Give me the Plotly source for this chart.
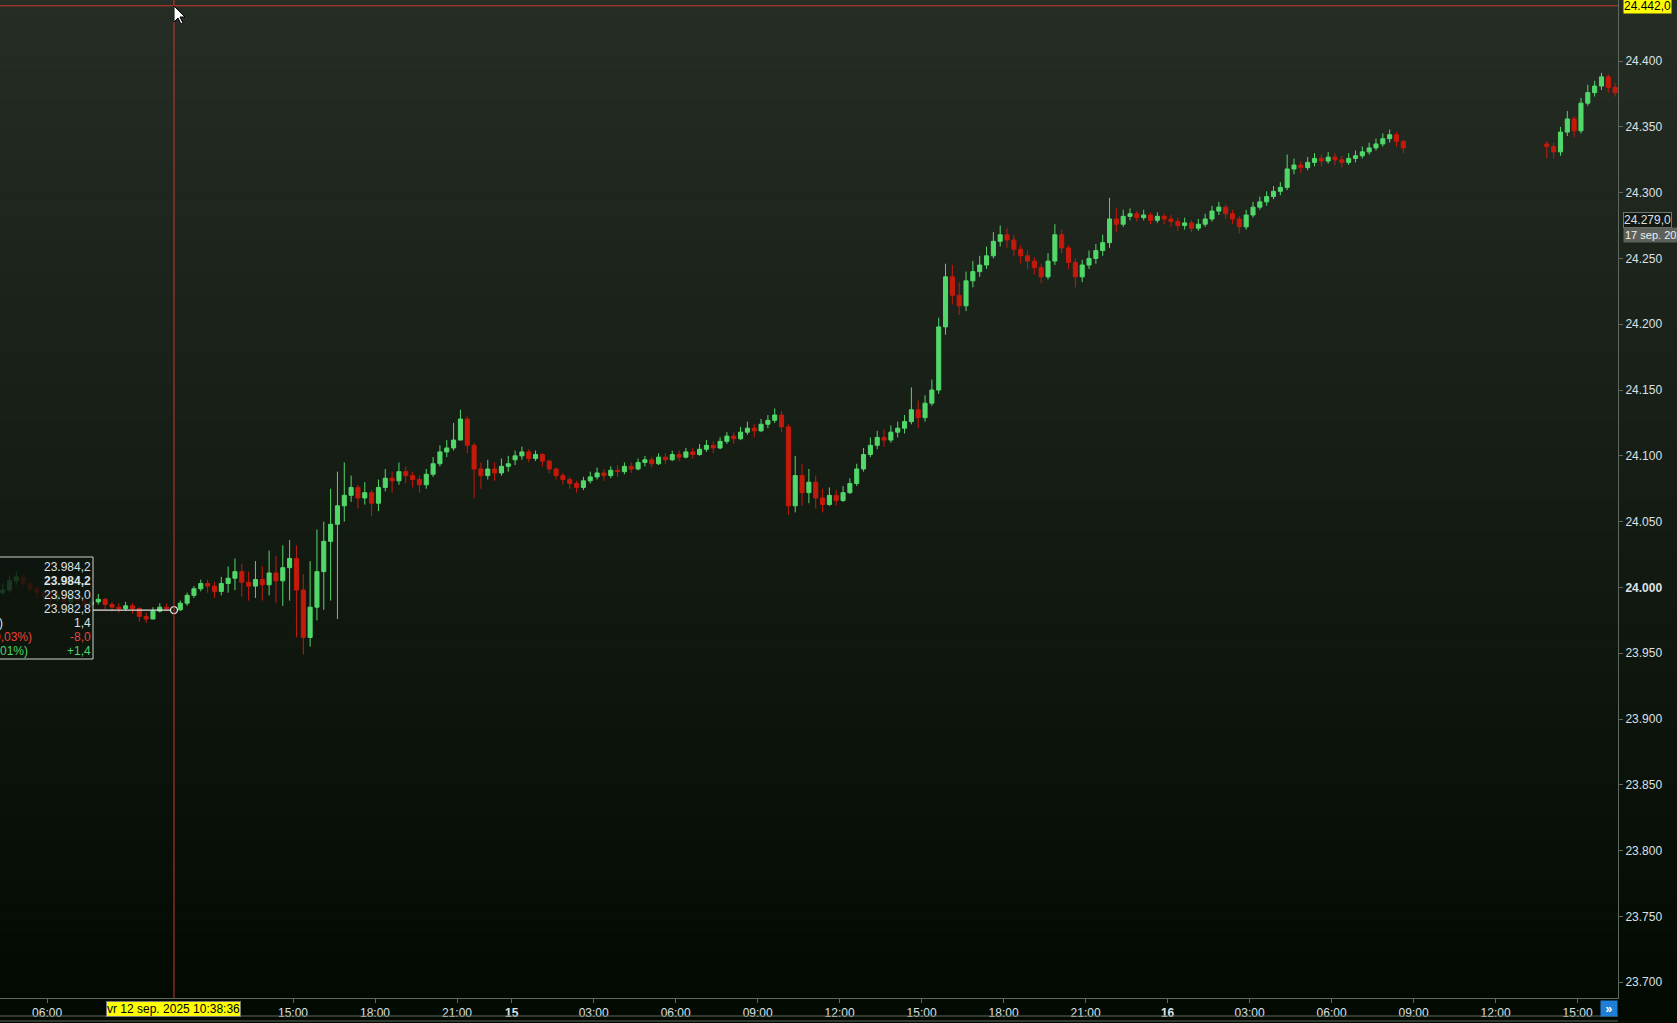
import pandas as pd
import plotly.graph_objects as go

# ---------------- DATA (15-minute bars, NQ future) ----------------
fri_start = "2025-09-12 04:15"
fri_open0 = 23996
fri_close = [23998, 24005, 24008,
             24003, 23999, 23996, 23993,
             23991, 23994, 23989, 23992,
             23990, 23987, 23989, 23991,
             23987, 23985, 23984, 23986,
             23984, 23978, 23976, 23982,
             23985, 23984, 23983, 23988,
             23994, 23999, 24003, 24001,
             23997, 24003, 24007, 24012,
             24004, 24001, 24006, 24002,
             24011, 24005, 24015, 24022,
             23998, 23962, 23985, 24012,
             24035, 24048, 24062, 24070,
             24076, 24068, 24072, 24064,
             24076, 24083, 24081, 24088,
             24085, 24082, 24078, 24086,
             24094, 24103, 24106, 24112,
             24128, 24108, 24090, 24085,
             24090, 24087, 24092, 24094]
fri_high = [24003, 24009, 24012,
            24010, 24005, 24001, 23998,
            23996, 23998, 23995, 23996,
            23994, 23992, 23993, 23995,
            23992, 23989, 23988, 23989,
            23988, 23985, 23981, 23985,
            23988, 23988, 23986, 23990,
            23996, 24001, 24006, 24006,
            24004, 24008, 24016, 24022,
            24018, 24012, 24020, 24016,
            24028, 24024, 24032, 24036,
            24032, 24010, 24020, 24044,
            24050, 24075, 24088, 24095,
            24085, 24078, 24080, 24074,
            24082, 24090, 24088, 24095,
            24092, 24088, 24085, 24090,
            24099, 24108, 24112, 24125,
            24135, 24130, 24110, 24095,
            24097, 24095, 24098, 24100]
fri_low = [23994, 23996, 24002,
           24000, 23995, 23992, 23989,
           23987, 23989, 23986, 23988,
           23986, 23984, 23985, 23987,
           23983, 23982, 23981, 23982,
           23980, 23974, 23973, 23977,
           23981, 23982, 23981, 23982,
           23986, 23992, 23997, 23996,
           23992, 23994, 23996, 23998,
           23993, 23990, 23992, 23990,
           23994, 23988, 23986, 23990,
           23962, 23949, 23955, 23975,
           23983, 23990, 23976, 24050,
           24065, 24060, 24063, 24054,
           24058, 24073, 24072, 24078,
           24079, 24076, 24072, 24075,
           24084, 24092, 24099, 24104,
           24112, 24102, 24068, 24075,
           24082, 24081, 24085, 24088]

mon_start = "2025-09-15 00:00"
mon_open0 = 24097
mon_close = [24100, 24103, 24098, 24101,
             24096, 24090, 24085, 24082,
             24079, 24076, 24081, 24084,
             24087, 24085, 24089, 24088,
             24092, 24090, 24095, 24097,
             24094, 24099, 24097, 24101,
             24099, 24103, 24101, 24105,
             24108, 24106, 24111, 24115,
             24113, 24118, 24121, 24119,
             24124, 24127, 24131, 24122,
             24062, 24085, 24072, 24080,
             24068, 24063, 24070, 24066,
             24072, 24079, 24090, 24101,
             24108, 24114, 24112, 24118,
             24121, 24126, 24135, 24129,
             24140, 24150, 24198, 24236,
             24222, 24214, 24233, 24240,
             24245, 24252, 24263, 24268,
             24264, 24257, 24252, 24248,
             24243, 24236, 24248, 24268,
             24258, 24247, 24236, 24245,
             24250, 24256, 24262, 24280,
             24276, 24282, 24284, 24281,
             24283, 24279, 24282, 24280]
mon_high = [24104, 24107, 24105, 24104,
            24102, 24097, 24091, 24087,
            24084, 24081, 24084, 24088,
            24091, 24090, 24092, 24093,
            24095, 24095, 24098, 24100,
            24099, 24102, 24102, 24104,
            24104, 24106, 24106, 24109,
            24112, 24111, 24114, 24118,
            24118, 24122, 24126, 24124,
            24128, 24131, 24136, 24134,
            24124, 24100, 24094, 24090,
            24085, 24075, 24076, 24074,
            24077, 24083, 24094, 24106,
            24114, 24119, 24120, 24123,
            24126, 24131, 24152, 24142,
            24146, 24158, 24205, 24246,
            24245, 24232, 24240, 24248,
            24252, 24259, 24270, 24275,
            24273, 24268, 24260, 24256,
            24251, 24246, 24254, 24276,
            24272, 24260, 24250, 24249,
            24256, 24261, 24268, 24296,
            24288, 24287, 24288, 24286,
            24287, 24285, 24285, 24284]
mon_low = [24093, 24097, 24095, 24096,
           24092, 24087, 24082, 24078,
           24075, 24072, 24074, 24079,
           24082, 24081, 24083, 24084,
           24086, 24087, 24089, 24092,
           24091, 24093, 24094, 24096,
           24096, 24098, 24098, 24100,
           24103, 24102, 24105, 24109,
           24109, 24112, 24116, 24114,
           24118, 24121, 24125, 24118,
           24055, 24057, 24062, 24064,
           24060, 24057, 24062, 24062,
           24065, 24071, 24077, 24088,
           24099, 24105, 24107, 24110,
           24114, 24117, 24124, 24121,
           24126, 24138, 24147, 24192,
           24215, 24207, 24210, 24228,
           24236, 24242, 24250, 24259,
           24258, 24252, 24246, 24242,
           24238, 24231, 24234, 24245,
           24254, 24242, 24228, 24232,
           24242, 24246, 24252, 24258,
           24270, 24274, 24279, 24278,
           24279, 24276, 24277, 24276]

tue_start = "2025-09-16 00:00"
tue_open0 = 24280
tue_close = [24278, 24275, 24277, 24273,
             24276, 24280, 24286, 24289,
             24284, 24280, 24274, 24283,
             24289, 24293, 24297, 24301,
             24304, 24318, 24321, 24319,
             24323, 24326, 24324, 24327,
             24325, 24323, 24326, 24328,
             24331, 24334, 24337, 24341,
             24344, 24339, 24334]
tue_high = [24283, 24281, 24281, 24279,
            24280, 24284, 24290, 24293,
            24291, 24287, 24282, 24287,
            24293, 24297, 24301, 24305,
            24308, 24329, 24326, 24324,
            24327, 24330, 24329, 24331,
            24330, 24328, 24330, 24332,
            24335, 24338, 24341, 24345,
            24348, 24346, 24340]
tue_low = [24274, 24271, 24272, 24270,
           24271, 24274, 24278, 24283,
           24280, 24276, 24269, 24272,
           24281, 24287, 24290, 24295,
           24298, 24302, 24314, 24315,
           24317, 24320, 24320, 24322,
           24321, 24319, 24321, 24323,
           24326, 24329, 24332, 24335,
           24338, 24335, 24330]

tue2_start = "2025-09-16 13:45"
tue2_open0 = 24337
tue2_close = [24335, 24331, 24346, 24356, 24347, 24368,
              24376, 24381, 24388, 24380, 24376]
tue2_high = [24339, 24338, 24350, 24362, 24358, 24372,
             24382, 24385, 24391, 24390, 24383]
tue2_low = [24326, 24326, 24328, 24343, 24342, 24345,
            24366, 24373, 24378, 24376, 24373]

# crosshair / info box values
cross_time = "2025-09-12 10:38:36"
cross_price = 24442.0
info_open, info_high, info_low, info_close = 23984.2, 23984.2, 23983.0, 23982.8
marker_price = 24279.0

x_tick_times = ["2025-09-12 06:00", "2025-09-12 15:00",
                "2025-09-12 18:00", "2025-09-12 21:00", "2025-09-15 00:00", "2025-09-15 03:00",
                "2025-09-15 06:00", "2025-09-15 09:00", "2025-09-15 12:00", "2025-09-15 15:00",
                "2025-09-15 18:00", "2025-09-15 21:00", "2025-09-16 00:00", "2025-09-16 03:00",
                "2025-09-16 06:00", "2025-09-16 09:00", "2025-09-16 12:00", "2025-09-16 15:00"]
x_tick_text = ["06:00", "15:00", "18:00", "21:00", "<b>15</b>", "03:00",
               "06:00", "09:00", "12:00", "15:00", "18:00", "21:00", "<b>16</b>", "03:00",
               "06:00", "09:00", "12:00", "15:00"]
y_tick_vals = [23700, 23750, 23800, 23850, 23900, 23950, 24000, 24050,
               24100, 24150, 24200, 24250, 24300, 24350, 24400]
y_tick_text = ["23.700", "23.750", "23.800", "23.850", "23.900", "23.950", "<b>24.000</b>", "24.050",
               "24.100", "24.150", "24.200", "24.250", "24.300", "24.350", "24.400"]

# ---------------- time axis (weekend removed) ----------------
BASE = pd.Timestamp("2025-09-12 00:00")
WKND_START = pd.Timestamp("2025-09-12 23:00")
WKND_END = pd.Timestamp("2025-09-15 00:00")
GAP_H = (WKND_END - WKND_START) / pd.Timedelta(hours=1)
BAR = pd.Timedelta(minutes=15)


def to_h(ts):
    ts = pd.Timestamp(ts)
    h = (ts - BASE) / pd.Timedelta(hours=1)
    if ts >= WKND_END:
        h -= GAP_H
    return h


sessions = [(fri_start, fri_open0, fri_close, fri_high, fri_low),
            (mon_start, mon_open0, mon_close, mon_high, mon_low),
            (tue_start, tue_open0, tue_close, tue_high, tue_low),
            (tue2_start, tue2_open0, tue2_close, tue2_high, tue2_low)]
X, O, H, L, C = [], [], [], [], []
for start, o0, cl, hi, lo in sessions:
    t0 = pd.Timestamp(start)
    for i in range(len(cl)):
        X.append(to_h(t0 + i * BAR + BAR / 2))
        O.append(o0 if i == 0 else cl[i - 1])
        C.append(cl[i])
        H.append(hi[i])
        L.append(lo[i])

# ---------------- geometry ----------------
W, HGT = 1677, 1023
PL, PR, PT, PB = 0, 59, 0, 25
plot_w = W - PL - PR
plot_h = HGT - PT - PB
X_RANGE = [4.278, 63.48]
Y_RANGE = [23688, 24446.4]

GREEN = "#52d86a"
RED = "#c41a0c"
CROSS = "#c9392e"
AXIS = "#5f685e"
TXT = "#dce1e6"
FONT = "Liberation Sans, Arial, sans-serif"


def px2x(px):
    return px / plot_w


def px2y(py):
    return 1 - py / plot_h


fig = go.Figure()
fig.add_trace(go.Candlestick(
    x=X, open=O, high=H, low=L, close=C,
    increasing=dict(line=dict(color=GREEN, width=1), fillcolor=GREEN),
    decreasing=dict(line=dict(color=RED, width=1), fillcolor=RED),
    whiskerwidth=0, hoverinfo="skip", showlegend=False))

cx = to_h(cross_time)
fig.add_trace(go.Scatter(
    x=[cx], y=[info_close], mode="markers",
    marker=dict(size=7, color="#141a14", line=dict(color="#e8e8e8", width=1.3)),
    hoverinfo="skip", showlegend=False))

shapes = []
# background gradient
top_c = (38, 45, 37)
bot_c = (2, 10, 2)
N = 90
ytop, ybot = 1.0, -PB / plot_h
for i in range(N):
    t = (i + 0.5) / N
    col = tuple(round(top_c[k] + (bot_c[k] - top_c[k]) * min(1.0, t * 1.02)) for k in range(3))
    y1 = ytop - (ytop - ybot) * i / N
    y0 = ytop - (ytop - ybot) * (i + 1) / N - 0.002
    shapes.append(dict(type="rect", xref="paper", yref="paper", x0=0, x1=W / plot_w + 0.01,
                       y0=y0, y1=y1, fillcolor="rgb(%d,%d,%d)" % col, line_width=0, layer="below"))

# lower frame lines of the time-axis panel
for py in (1016, 1021):
    shapes.append(dict(type="line", xref="paper", yref="paper", x0=0, x1=1, y0=px2y(py), y1=px2y(py),
                       line=dict(color=AXIS, width=1)))

# crosshair
shapes.append(dict(type="line", xref="x", yref="paper", x0=cx, x1=cx, y0=0, y1=1,
                   line=dict(color=CROSS, width=1)))
shapes.append(dict(type="line", xref="paper", yref="y", x0=0, x1=1, y0=cross_price, y1=cross_price,
                   line=dict(color=CROSS, width=1)))

# info box
bx1 = 93
shapes.append(dict(type="rect", xref="paper", yref="paper", x0=-0.01, x1=px2x(bx1),
                   y0=px2y(659), y1=px2y(557), fillcolor="rgba(14,21,14,0.82)",
                   line=dict(color="#cfd2cf", width=1), layer="above"))
cx_paper = (cx - X_RANGE[0]) / (X_RANGE[1] - X_RANGE[0])
shapes.append(dict(type="line", xref="paper", yref="y", x0=px2x(bx1), x1=cx_paper - 0.0022,
                   y0=info_close, y1=info_close, line=dict(color="#e0e0e0", width=1.3)))

# mouse cursor
cur = [(0, 0), (0, 16), (4, 12), (7, 18), (9, 17), (6, 11), (11, 11)]
ox, oy = 174, 6
path = "M " + " L ".join("%f,%f" % (px2x(ox + dx), px2y(oy + dy)) for dx, dy in cur) + " Z"
shapes.append(dict(type="path", xref="paper", yref="paper", path=path, fillcolor="white",
                   line=dict(color="black", width=1), layer="above"))

ann = []
# y-axis crosshair price label
ann.append(dict(xref="paper", yref="y", x=1, y=cross_price, xanchor="left", yanchor="middle",
                xshift=5, text="24.442,0", showarrow=False, bgcolor="#ffff00", borderpad=0,
                font=dict(family=FONT, size=12, color="black")))
# time label
ann.append(dict(xref="x", yref="paper", x=cx, y=px2y(1009), xanchor="center", yanchor="middle",
                text="vr 12 sep. 2025 10:38:36", showarrow=False, bgcolor="#ffff00",
                bordercolor="#7a7a7a", borderwidth=1, borderpad=0,
                font=dict(family=FONT, size=12, color="black")))
# price marker label
ann.append(dict(xref="paper", yref="y", x=1, y=marker_price, xanchor="left", yanchor="middle",
                xshift=5, text="24.279,0", showarrow=False, bgcolor="#121712", bordercolor="#70766f",
                borderwidth=1, borderpad=0, font=dict(family=FONT, size=12, color=TXT)))
ann.append(dict(xref="paper", yref="y", x=1, y=marker_price, xanchor="left", yanchor="middle",
                xshift=5, yshift=-15, text="17 sep. 2025 ", showarrow=False, bgcolor="#5c625b",
                borderpad=1, font=dict(family=FONT, size=11, color="#f0f0f0")))
# scroll button
ann.append(dict(xref="paper", yref="paper", x=px2x(1609), y=px2y(1008.5), xanchor="center",
                yanchor="middle", text="<b>»</b>", showarrow=False, bgcolor="#1f7fd6", width=14,
                height=13, font=dict(family=FONT, size=12, color="white")))

# info box texts
rows = [("23.984,2", TXT, False), ("23.984,2", TXT, True), ("23.983,0", TXT, False),
        ("23.982,8", TXT, False), ("1,4", TXT, False), ("-8,0", "#e8433a", False),
        ("+1,4", "#4fd36a", False)]
left_rows = [None, None, None, None, (")", TXT, 5), ("(-0,03%)", "#e8433a", 34), ("(+0,01%)", "#4fd36a", 30)]
for i, (t, c, b) in enumerate(rows):
    py = 566.5 + i * 14
    ann.append(dict(xref="paper", yref="paper", x=px2x(93), y=px2y(py), xanchor="right",
                    yanchor="middle", text="<b>%s</b>" % t if b else t, showarrow=False,
                    font=dict(family=FONT, size=12, color=c)))
    if left_rows[i]:
        lt, lc, lx = left_rows[i]
        ann.append(dict(xref="paper", yref="paper", x=px2x(lx), y=px2y(py), xanchor="right",
                        yanchor="middle", text=lt, showarrow=False,
                        font=dict(family=FONT, size=12, color=lc)))

fig.update_layout(
    width=W, height=HGT, margin=dict(l=PL, r=PR, t=PT, b=PB, pad=0),
    paper_bgcolor="rgb(2,10,2)", plot_bgcolor="rgba(0,0,0,0)",
    font=dict(family=FONT, size=12, color=TXT),
    shapes=shapes, annotations=ann, showlegend=False, hovermode=False,
    boxgap=0.15,
    xaxis=dict(range=X_RANGE, rangeslider=dict(visible=False), showgrid=False, zeroline=False,
               showline=True, linecolor=AXIS, linewidth=1, ticks="outside", ticklen=4,
               tickcolor=AXIS, tickvals=[to_h(t) for t in x_tick_times], ticktext=x_tick_text,
               tickfont=dict(family=FONT, size=12, color=TXT), fixedrange=True),
    yaxis=dict(range=Y_RANGE, side="right", showgrid=False, zeroline=False, showline=True,
               linecolor=AXIS, linewidth=1, ticks="outside", ticklen=4, tickcolor=AXIS,
               tickvals=y_tick_vals, ticktext=y_tick_text,
               tickfont=dict(family=FONT, size=12, color=TXT), fixedrange=True),
)

fig.write_html("out.html", config={"displayModeBar": False},
               post_script="document.body.style.margin='0';document.body.style.overflow='hidden';")
